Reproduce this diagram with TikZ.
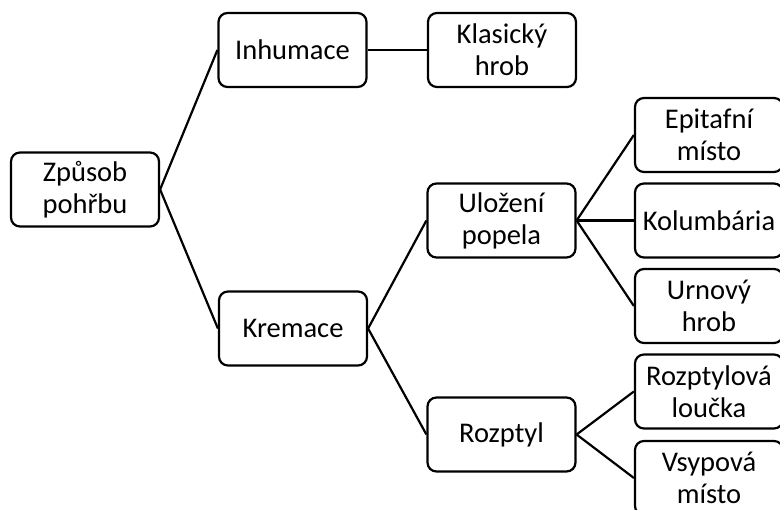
\documentclass[tikz,border=0pt]{standalone}
\usepackage{fontspec}
\setmainfont{Carlito}
\begin{document}
\begin{tikzpicture}[x=1pt,y=-1pt,
  box/.style={draw=black, line width=2.2pt, rounded corners=9pt, fill=white,
    minimum width=148pt, minimum height=74pt, inner sep=0pt, align=center,
    font=\fontsize{28.5}{32}\selectfont},
  link/.style={line width=2.2pt}]
\useasboundingbox (0,0) rectangle (780,510);
\node[box] (zp) at (85,189.5) {Způsob\\pohřbu};
\node[box] (inh) at (292.5,50) {Inhumace};
\node[box] (kre) at (293,328.5) {Kremace};
\node[box] (kla) at (502,50) {Klasický\\hrob};
\node[box] (ulo) at (501.5,220.5) {Uložení\\popela};
\node[box] (roz) at (501.5,434.5) {Rozptyl};
\node[box] (epi) at (709,135) {Epitafní\\místo};
\node[box] (kol) at (709,220.5) {Kolumbária};
\node[box] (urn) at (709,306) {Urnový\\hrob};
\node[box] (rlo) at (709,391.5) {Rozptylová\\loučka};
\node[box] (vsy) at (709,478) {Vsypová\\místo};
\draw[link] (zp.east) -- (inh.west);
\draw[link] (zp.east) -- (kre.west);
\draw[link] (inh.east) -- (kla.west);
\draw[link] (kre.east) -- (ulo.west);
\draw[link] (kre.east) -- (roz.west);
\draw[link] (ulo.east) -- (epi.west);
\draw[link] (ulo.east) -- (kol.west);
\draw[link] (ulo.east) -- (urn.west);
\draw[link] (roz.east) -- (rlo.west);
\draw[link] (roz.east) -- (vsy.west);
\end{tikzpicture}
\end{document}
